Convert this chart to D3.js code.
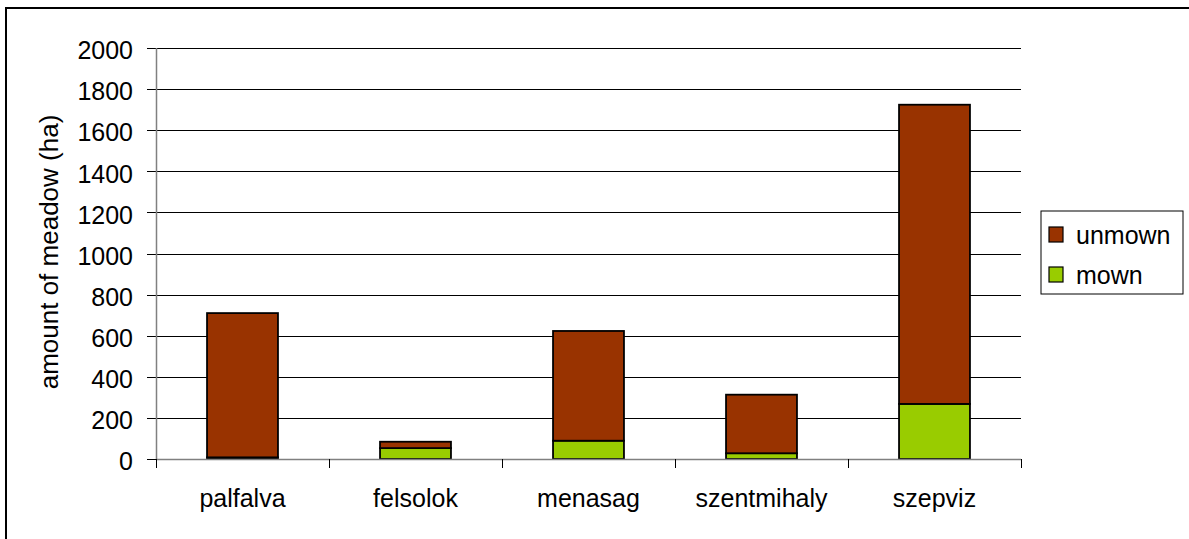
<!DOCTYPE html>
<meta charset="utf-8">
<script src="https://cdn.jsdelivr.net/npm/d3@7/dist/d3.min.js"></script>
<head>
	<title>Meadow area by village</title>
	<style>
		body { margin: 0; background: #fff; }
		text { font-family: "Liberation Sans", Arial, sans-serif; fill: #000; }
	</style>
</head>
<body>
	<div id="chart"></div>
	<script>
		// data
		var villages = ["palfalva", "felsolok", "menasag", "szentmihaly", "szepviz"];
		var mown = [8, 53, 89, 28, 268];
		var unmown = [702, 31, 534, 285, 1456];
		var yTicks = [0, 200, 400, 600, 800, 1000, 1200, 1400, 1600, 1800, 2000];
		var seriesNames = ["mown", "unmown"];
		var seriesColors = {mown: "#99cc00", unmown: "#993300"};

		var W = 1189, H = 539;
		var plot = {left: 156, right: 1021, top: 48, bottom: 459};

		var svg = d3.select("#chart").append("svg")
			.attr("width", W).attr("height", H);

		// outer frame, runs off the right and bottom edge
		svg.append("rect")
			.attr("x", 6).attr("y", 8)
			.attr("width", W + 20).attr("height", H + 20)
			.attr("fill", "#fff").attr("stroke", "#000").attr("stroke-width", 2);

		var x = d3.scaleBand().domain(villages)
			.range([plot.left, plot.right]).paddingInner(0.59).paddingOuter(0.295);
		var xOuter = d3.scaleBand().domain(villages).range([plot.left, plot.right]);
		var y = d3.scaleLinear().domain([0, 2000]).range([plot.bottom, plot.top]);

		// gridlines + y ticks
		svg.append("g").selectAll("line").data(yTicks.filter(d => d > 0)).enter()
			.append("line")
			.attr("x1", plot.left - 9).attr("x2", plot.right)
			.attr("y1", d => Math.round(y(d)) + 0.5).attr("y2", d => Math.round(y(d)) + 0.5)
			.attr("stroke", "#000").attr("stroke-width", 1);

		svg.append("line")
			.attr("x1", plot.left - 9).attr("x2", plot.left)
			.attr("y1", plot.bottom + 0.5).attr("y2", plot.bottom + 0.5)
			.attr("stroke", "#000");

		svg.append("g").selectAll("text").data(yTicks).enter()
			.append("text")
			.attr("x", 133).attr("y", d => y(d))
			.attr("dy", "0.45em")
			.attr("text-anchor", "end")
			.style("font-size", "25px")
			.text(d => d);

		// stacked bars
		var table = villages.map((v, i) => ({village: v, mown: mown[i], unmown: unmown[i]}));
		var stack = d3.stack().keys(seriesNames)(table);

		svg.append("g").selectAll("g").data(stack).enter()
			.append("g")
			.attr("fill", d => seriesColors[d.key])
			.selectAll("rect").data(d => d).enter()
			.append("rect")
			.attr("x", d => x(d.data.village))
			.attr("width", x.bandwidth())
			.attr("y", d => y(d[1]))
			.attr("height", d => y(d[0]) - y(d[1]))
			.attr("stroke", "#000").attr("stroke-width", 1.8);

		// axes lines
		svg.append("line")
			.attr("x1", plot.left + 0.5).attr("x2", plot.left + 0.5)
			.attr("y1", plot.top).attr("y2", plot.bottom)
			.attr("stroke", "#808080").attr("stroke-width", 1.5);
		svg.append("line")
			.attr("x1", plot.left).attr("x2", plot.right)
			.attr("y1", plot.bottom + 0.5).attr("y2", plot.bottom + 0.5)
			.attr("stroke", "#808080").attr("stroke-width", 1.5);

		// x ticks between categories
		var xTickPos = villages.map(v => xOuter(v) + xOuter.bandwidth()).concat([plot.left]);
		svg.append("g").selectAll("line").data(xTickPos).enter()
			.append("line")
			.attr("x1", d => Math.round(d) + 0.5).attr("x2", d => Math.round(d) + 0.5)
			.attr("y1", plot.bottom).attr("y2", plot.bottom + 9)
			.attr("stroke", "#000");

		svg.append("g").selectAll("text").data(villages).enter()
			.append("text")
			.attr("x", d => xOuter(d) + xOuter.bandwidth() / 2)
			.attr("y", 507)
			.attr("text-anchor", "middle")
			.style("font-size", "25px")
			.text(d => d);

		// y axis title
		svg.append("text")
			.attr("transform", "translate(58," + 252 + ") rotate(-90)")
			.attr("text-anchor", "middle")
			.style("font-size", "26px")
			.text("amount of meadow (ha)");

		// legend
		var legend = svg.append("g").attr("transform", "translate(1041,211)");
		legend.append("rect")
			.attr("width", 142).attr("height", 83)
			.attr("fill", "#fff").attr("stroke", "#000").attr("stroke-width", 1);
		var items = ["unmown", "mown"];
		var li = legend.selectAll("g.item").data(items).enter()
			.append("g").attr("class", "item")
			.attr("transform", (d, i) => "translate(8," + (16 + i * 40) + ")");
		li.append("rect")
			.attr("width", 14).attr("height", 15)
			.attr("fill", d => seriesColors[d])
			.attr("stroke", "#000").attr("stroke-width", 1.2);
		li.append("text")
			.attr("x", 27).attr("y", 8).attr("dy", "0.35em")
			.style("font-size", "25px")
			.text(d => d);
	</script>
</body>
</html>
